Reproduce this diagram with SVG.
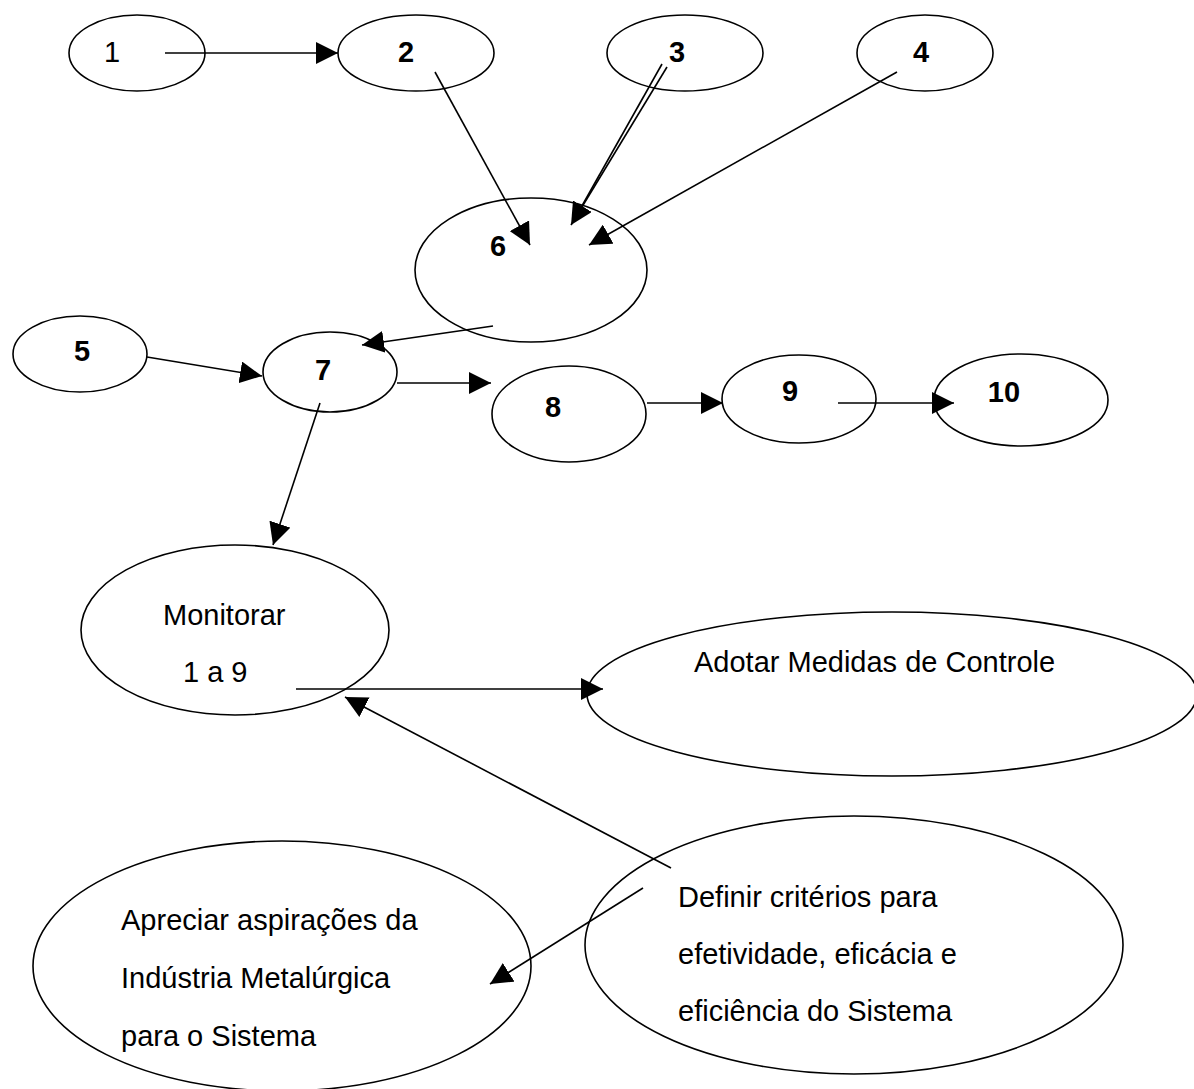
<svg xmlns="http://www.w3.org/2000/svg" width="1194" height="1089" viewBox="0 0 1194 1089">
<defs>
<style>
.node ellipse{fill:#fff;stroke:#000;stroke-width:1.6}
.conn line{stroke:#000;stroke-width:1.6}
.num{font-family:"Liberation Sans",Arial,sans-serif;font-size:29px;font-weight:bold;text-anchor:middle;fill:#000}
.num1{font-family:"Liberation Sans",Arial,sans-serif;font-size:29px;text-anchor:middle;fill:#000}
.lbl{font-family:"Liberation Sans",Arial,sans-serif;font-size:29px;fill:#000}
</style>
<marker id="ah" markerUnits="userSpaceOnUse" markerWidth="22" markerHeight="22" refX="20" refY="10" orient="auto" viewBox="0 0 20 20">
<path d="M0,0 L20,10 L0,20 z" fill="#000"/>
</marker>
</defs>
<rect width="1194" height="1089" fill="#fff"/>
<g id="nodes" class="node">
<g id="n1"><ellipse cx="137" cy="53" rx="68" ry="38"/><text class="num1" x="112" y="62">1</text></g>
<g id="n2"><ellipse cx="416" cy="53" rx="78" ry="38"/><text class="num" x="406" y="62">2</text></g>
<g id="n3"><ellipse cx="685" cy="53" rx="78" ry="38"/><text class="num" x="677" y="62">3</text></g>
<g id="n4"><ellipse cx="925" cy="53" rx="68" ry="38"/><text class="num" x="921" y="62">4</text></g>
<g id="n6"><ellipse cx="531" cy="270" rx="116" ry="72"/><text class="num" x="498" y="256">6</text></g>
<g id="n5"><ellipse cx="80" cy="354" rx="67" ry="38"/><text class="num" x="82" y="361">5</text></g>
<g id="n7"><ellipse cx="330" cy="372" rx="67" ry="40"/><text class="num" x="323" y="380">7</text></g>
<g id="n8"><ellipse cx="569" cy="414" rx="77" ry="48"/><text class="num" x="553" y="417">8</text></g>
<g id="n9"><ellipse cx="799" cy="399" rx="77" ry="44"/><text class="num" x="790" y="401">9</text></g>
<g id="n10"><ellipse cx="1021" cy="400" rx="87" ry="46"/><text class="num" x="1004" y="402">10</text></g>
<g id="monitorar"><ellipse cx="235" cy="630" rx="154" ry="85"/><text class="lbl" x="163" y="625">Monitorar</text><text class="lbl" x="183" y="682">1 a 9</text></g>
<g id="adotar"><ellipse cx="892" cy="694" rx="305" ry="82"/><text class="lbl" x="694" y="672">Adotar Medidas de Controle</text></g>
<g id="apreciar"><ellipse cx="282" cy="966" rx="249" ry="125"/><text class="lbl" x="121" y="930">Apreciar aspirações da</text><text class="lbl" x="121" y="988">Indústria Metalúrgica</text><text class="lbl" x="121" y="1046">para o Sistema</text></g>
<g id="definir"><ellipse cx="854" cy="945" rx="269" ry="129"/><text class="lbl" x="678" y="907">Definir critérios para</text><text class="lbl" x="678" y="964">efetividade, eficácia e</text><text class="lbl" x="678" y="1021">eficiência do Sistema</text></g>
</g>
<g id="connectors" class="conn">
<line x1="165" y1="53" x2="338" y2="53" marker-end="url(#ah)"/>
<line x1="435" y1="72" x2="530" y2="245" marker-end="url(#ah)"/>
<line x1="662" y1="64" x2="574" y2="220"/>
<line x1="667" y1="67" x2="571" y2="225" marker-end="url(#ah)"/>
<line x1="897" y1="72" x2="589" y2="245" marker-end="url(#ah)"/>
<line x1="493" y1="326" x2="362" y2="345" marker-end="url(#ah)"/>
<line x1="147" y1="357" x2="262" y2="376" marker-end="url(#ah)"/>
<line x1="397" y1="383" x2="491" y2="383" marker-end="url(#ah)"/>
<line x1="320" y1="403" x2="273" y2="545" marker-end="url(#ah)"/>
<line x1="647" y1="403" x2="723" y2="403" marker-end="url(#ah)"/>
<line x1="838" y1="403" x2="954" y2="403" marker-end="url(#ah)"/>
<line x1="296" y1="689" x2="603" y2="689" marker-end="url(#ah)"/>
<line x1="671" y1="868" x2="345" y2="697" marker-end="url(#ah)"/>
<line x1="643" y1="888" x2="490" y2="984" marker-end="url(#ah)"/>
</g>
</svg>
